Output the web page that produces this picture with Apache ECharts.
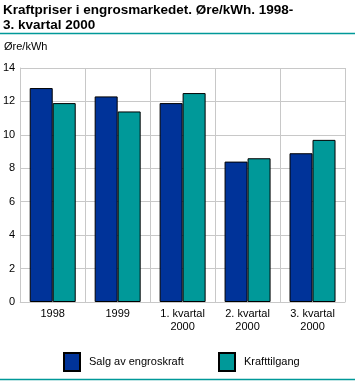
<!DOCTYPE html>
<html><head><meta charset="utf-8">
<script src="https://cdn.jsdelivr.net/npm/echarts@6/dist/echarts.min.js"></script>
<style>html,body{margin:0;padding:0;background:#fff}#c{width:355px;height:383px}</style>
</head><body><div id="c"></div>
<script>
var categories = ['1998', '1999', '1. kvartal\n2000', '2. kvartal\n2000', '3. kvartal\n2000'];
var salg = [12.8, 12.3, 11.9, 8.4, 8.9];
var krafttilgang = [11.9, 11.4, 12.5, 8.6, 9.7];
var seriesNames = ['Salg av engroskraft', 'Krafttilgang'];
var titleText = 'Kraftpriser i engrosmarkedet. Øre/kWh. 1998-\n3. kvartal 2000';
var unitText = 'Øre/kWh';

var FONT = 'Liberation Sans, Arial, sans-serif';
var chart = echarts.init(document.getElementById('c'), null, {renderer: 'canvas'});
chart.setOption({
  animation: false,
  textStyle: {fontFamily: FONT},
  title: {
    text: titleText, left: 3, top: 3, padding: 0,
    textStyle: {fontSize: 13.5, fontWeight: 'bold', color: '#000', lineHeight: 15, fontFamily: FONT}
  },
  graphic: [
    {type: 'line', shape: {x1: 0, y1: 33.5, x2: 355, y2: 33.5}, style: {stroke: '#009999', lineWidth: 1.5}},
    {type: 'line', shape: {x1: 0, y1: 379.5, x2: 355, y2: 379.5}, style: {stroke: '#009999', lineWidth: 1.5}},
    {type: 'text', left: 4, top: 41, style: {text: unitText, fontSize: 11, fill: '#000', fontFamily: FONT}}
  ],
  grid: {left: 18, right: 10, top: 68, bottom: 81, containLabel: false},
  xAxis: {
    type: 'category', data: categories,
    axisLine: {show: true, lineStyle: {color: '#c8c8c8'}},
    axisTick: {show: false},
    splitLine: {show: true, lineStyle: {color: '#c8c8c8'}},
    axisLabel: {color: '#000', fontSize: 11, margin: 5, lineHeight: 13, interval: 0}
  },
  yAxis: {
    type: 'value', min: 0, max: 14, interval: 2,
    axisLine: {show: true, lineStyle: {color: '#c8c8c8'}},
    axisTick: {show: false},
    splitLine: {show: true, lineStyle: {color: '#c8c8c8'}},
    axisLabel: {color: '#000', fontSize: 11, margin: 5}
  },
  legend: [
    {data: [{name: seriesNames[0], icon: 'rect'}], left: 63, top: 352, itemWidth: 16, itemHeight: 18, itemGap: 0,
     textStyle: {fontSize: 11, color: '#000', padding: [0,0,0,4]}, padding: 0},
    {data: [{name: seriesNames[1], icon: 'rect'}], left: 218, top: 352, itemWidth: 16, itemHeight: 18, itemGap: 0,
     textStyle: {fontSize: 11, color: '#000', padding: [0,0,0,4]}, padding: 0}
  ],
  series: [
    {name: seriesNames[0], type: 'bar', data: salg, barWidth: 23, barGap: '0%',
     itemStyle: {color: '#003399', borderColor: '#000', borderWidth: 1}},
    {name: seriesNames[1], type: 'bar', data: krafttilgang, barWidth: 23, barGap: '0%',
     itemStyle: {color: '#009999', borderColor: '#000', borderWidth: 1}}
  ]
});
</script></body></html>
